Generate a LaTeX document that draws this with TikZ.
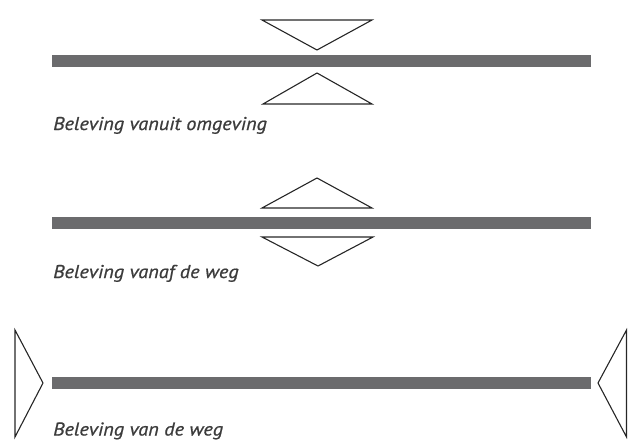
\documentclass[tikz,border=0pt]{standalone}
\usepackage{fontspec}
\setmainfont{PT Sans}
\newfontfamily\captionfont{PT Sans}[FakeStretch=1.1,FakeBold=0.8]
\definecolor{roadgray}{HTML}{6B6B6D}
\definecolor{labelgray}{HTML}{3C3C3C}
\tikzset{
  road/.style={fill=roadgray, draw=none},
  view/.style={draw=black!85, line width=1.1pt, line join=miter},
  caption/.style={anchor=base west, inner sep=0pt, text=labelgray,
    font=\captionfont\fontsize{18.5}{22}\selectfont\itshape}
}
\begin{document}
\begin{tikzpicture}[x=1pt,y=-1pt]
\useasboundingbox (0,0) rectangle (628,441);
% wegen
\fill[road] (52,55.5) rectangle (591,67.5);
\fill[road] (52,217) rectangle (591,229);
\fill[road] (52,377) rectangle (591,389);
% beleving vanuit omgeving
\draw[view] (262,20) -- (372,20) -- (317,50) -- cycle;
\draw[view] (263,104) -- (372,104) -- (317,73) -- cycle;
\node[caption] (omg) at (53,130) {Beleving vanuit omgeving};
% beleving vanaf de weg
\draw[view] (262,208) -- (372,208) -- (317,178) -- cycle;
\draw[view] (262,237) -- (373,237) -- (318,266) -- cycle;
\node[caption] (vanaf) at (53,278) {Beleving vanaf de weg};
% beleving van de weg
\draw[view] (15,330) -- (15,437) -- (43,383) -- cycle;
\draw[view] (626.5,330) -- (626.5,437) -- (598,383) -- cycle;
\node[caption] (vande) at (53,435.5) {Beleving van de weg};
\end{tikzpicture}
\end{document}
